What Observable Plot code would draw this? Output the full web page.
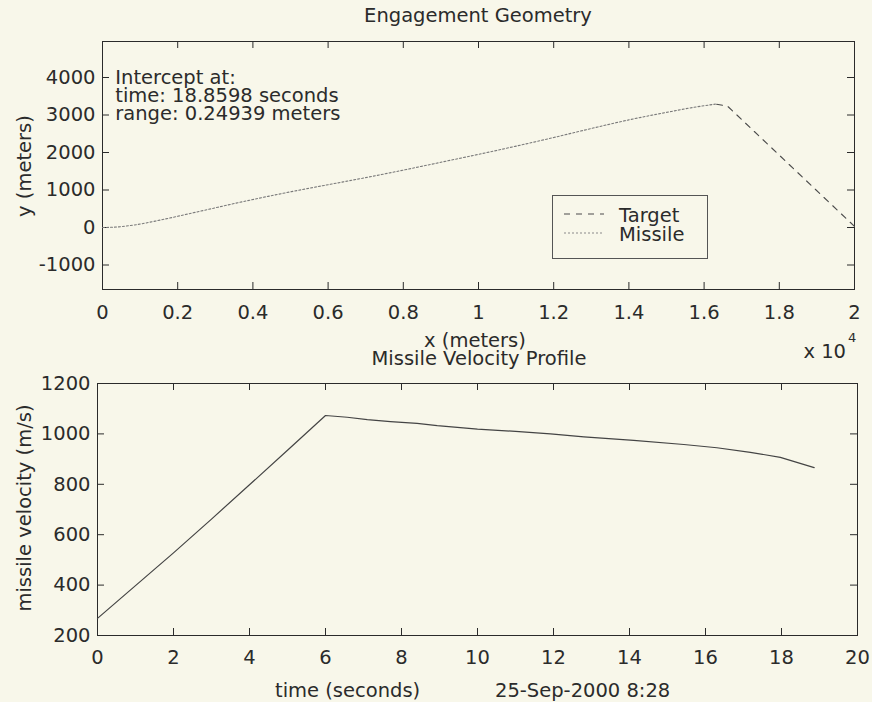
<!DOCTYPE html>
<html><head><meta charset="utf-8">
<script src="https://cdn.jsdelivr.net/npm/d3@7"></script>
<script src="https://cdn.jsdelivr.net/npm/@observablehq/plot@0.6"></script>
<style>
html,body{margin:0;padding:0;background:#f8f7ea;}
#wrap{position:relative;width:872px;height:702px;background:#f8f7ea;font-family:"DejaVu Sans",sans-serif;}
#wrap svg{position:absolute;left:0;overflow:visible;}
</style></head><body><div id="wrap"></div>
<script>
// ---- data ----
const missileX = [0, 400, 800, 1400, 2000, 2800, 3600, 4400, 5200, 6100, 7000, 8000, 9000, 10000, 11000, 12000, 13000, 14000, 15000, 15700, 16300];
const missileY = [0, 15, 60, 170, 300, 480, 660, 830, 990, 1160, 1330, 1530, 1740, 1950, 2170, 2400, 2640, 2870, 3070, 3200, 3290];
const targetX = [20000, 16620, 16300];
const targetY = [30, 3240, 3290];
const geoXTicks = [0, 2000, 4000, 6000, 8000, 10000, 12000, 14000, 16000, 18000, 20000];
const geoYTicks = [-1000, 0, 1000, 2000, 3000, 4000];
const noteLines = ["Intercept at:", "time: 18.8598 seconds", "range: 0.24939 meters"];

const velT = [0, 1, 2, 3, 4, 5, 6.0, 6.57, 7.1, 7.71, 8.41, 8.94, 10.0, 11.0, 11.92, 12.8, 14.11, 15.43, 16.3, 17.18, 17.97, 18.86];
const velV = [268, 398, 528, 662, 798, 935, 1073, 1066, 1057, 1049, 1042, 1033, 1019, 1010, 1000, 988, 974, 958, 945, 927, 907, 866];
const velXTicks = [0, 2, 4, 6, 8, 10, 12, 14, 16, 18, 20];
const velYTicks = [200, 400, 600, 800, 1000, 1200];

// ---- style ----
const FS = 19.5;
const INK = "#2b2b2b";
const BG = "#f8f7ea";
const FONT = "DejaVu Sans, sans-serif";
const wrap = document.getElementById("wrap");

function boxMarks(xTicks, yTicks, fw, fh, fmtX, labelDy) {
  const tl = 7;
  return [
    Plot.frame({stroke: INK, strokeWidth: 1}),
    Plot.tickX(xTicks, {x: d => d, insetTop: fh - tl, stroke: INK}),
    Plot.tickX(xTicks, {x: d => d, insetBottom: fh - tl, stroke: INK}),
    Plot.tickY(yTicks, {y: d => d, insetRight: fw - tl, stroke: INK}),
    Plot.tickY(yTicks, {y: d => d, insetLeft: fw - tl, stroke: INK}),
    Plot.text(xTicks, {x: d => d, frameAnchor: "bottom", lineAnchor: "bottom", dy: labelDy,
      text: fmtX, fill: INK, fontSize: FS, fontFamily: FONT}),
    Plot.text(yTicks, {y: d => d, frameAnchor: "left", textAnchor: "end", dx: -7,
      text: d => String(d), fill: INK, fontSize: FS, fontFamily: FONT})
  ];
}

// ---- top: Engagement Geometry ----
const missile = missileX.map((x, i) => ({x, y: missileY[i]}));
const target = targetX.map((x, i) => ({x, y: targetY[i]}));
const g1 = {w: 872, h: 350, ml: 102, mr: 18, mt: 41, mb: 61};
const p1 = Plot.plot({
  width: g1.w, height: g1.h,
  marginLeft: g1.ml, marginRight: g1.mr, marginTop: g1.mt, marginBottom: g1.mb,
  style: {background: "transparent", fontFamily: FONT, color: INK},
  x: {domain: [0, 20000], axis: null},
  y: {domain: [-1653, 4960], axis: null},
  marks: [
    ...boxMarks(geoXTicks, geoYTicks, g1.w - g1.ml - g1.mr, g1.h - g1.mt - g1.mb,
      d => String(+(d / 10000).toFixed(1)), 29),
    Plot.line(missile, {x: "x", y: "y", stroke: "#7a7a7a", strokeWidth: 1.1, strokeDasharray: "2,2", curve: "monotone-x"}),
    Plot.line(target, {x: "x", y: "y", stroke: "#4a4a4a", strokeWidth: 1.1, strokeDasharray: "6,6"}),
    Plot.text([noteLines.join("\n")], {x: () => 340, y: () => 4000, text: d => d,
      textAnchor: "start", lineAnchor: "top", dy: -7, lineHeight: 0.94,
      fill: INK, fontSize: FS, fontFamily: FONT})
  ]
});
p1.style.top = "0px";
wrap.appendChild(p1);

// ---- bottom: Missile Velocity Profile ----
const vel = velT.map((t, i) => ({t, v: velV[i]}));
const g2 = {w: 872, h: 352, ml: 97, mr: 15, mt: 33, mb: 67};
const p2 = Plot.plot({
  width: g2.w, height: g2.h,
  marginLeft: g2.ml, marginRight: g2.mr, marginTop: g2.mt, marginBottom: g2.mb,
  style: {background: "transparent", fontFamily: FONT, color: INK},
  x: {domain: [0, 20], axis: null},
  y: {domain: [200, 1200], axis: null},
  marks: [
    ...boxMarks(velXTicks, velYTicks, g2.w - g2.ml - g2.mr, g2.h - g2.mt - g2.mb,
      d => String(d), 28),
    Plot.line(vel, {x: "t", y: "v", stroke: "#444", strokeWidth: 1.2})
  ]
});
p2.style.top = "350px";
wrap.appendChild(p2);

// ---- overlay: titles, axis labels, legend ----
const ov = d3.select(wrap).append("svg")
  .attr("width", 872).attr("height", 702)
  .style("top", "0px")
  .attr("font-family", FONT).attr("font-size", FS).attr("fill", INK);

function txt(s, x, y, anchor, opts = {}) {
  const t = ov.append("text").attr("x", x).attr("y", y).attr("text-anchor", anchor).text(s);
  if (opts.size) t.attr("font-size", opts.size);
  if (opts.rotate) t.attr("transform", `rotate(-90 ${x} ${y})`);
  return t;
}
txt("Engagement Geometry", 478, 22, "middle");
txt("x (meters)", 475, 347, "middle");
txt("Missile Velocity Profile", 479, 365, "middle");
txt("x 10", 846, 358, "end");
txt("4", 848, 342, "start", {size: 13});
txt("y (meters)", 31, 166, "middle", {rotate: true});
txt("missile velocity (m/s)", 31, 508, "middle", {rotate: true});
txt("time (seconds)", 275, 697, "start");
txt("25-Sep-2000 8:28", 495, 697, "start");

// legend
const lg = ov.append("g");
lg.append("rect").attr("x", 552.5).attr("y", 195.5).attr("width", 155).attr("height", 63)
  .attr("fill", BG).attr("stroke", "#555").attr("stroke-width", 1);
const legendItems = [
  {name: "Target", y: 214, stroke: "#4a4a4a", dash: "6,6"},
  {name: "Missile", y: 233, stroke: "#8a8a8a", dash: "2,2"}
];
legendItems.forEach(it => {
  lg.append("line").attr("x1", 564).attr("x2", 604).attr("y1", it.y).attr("y2", it.y)
    .attr("stroke", it.stroke).attr("stroke-width", 1.1).attr("stroke-dasharray", it.dash);
  lg.append("text").attr("x", 619).attr("y", it.y + 7.5).text(it.name);
});
</script>
</body></html>
